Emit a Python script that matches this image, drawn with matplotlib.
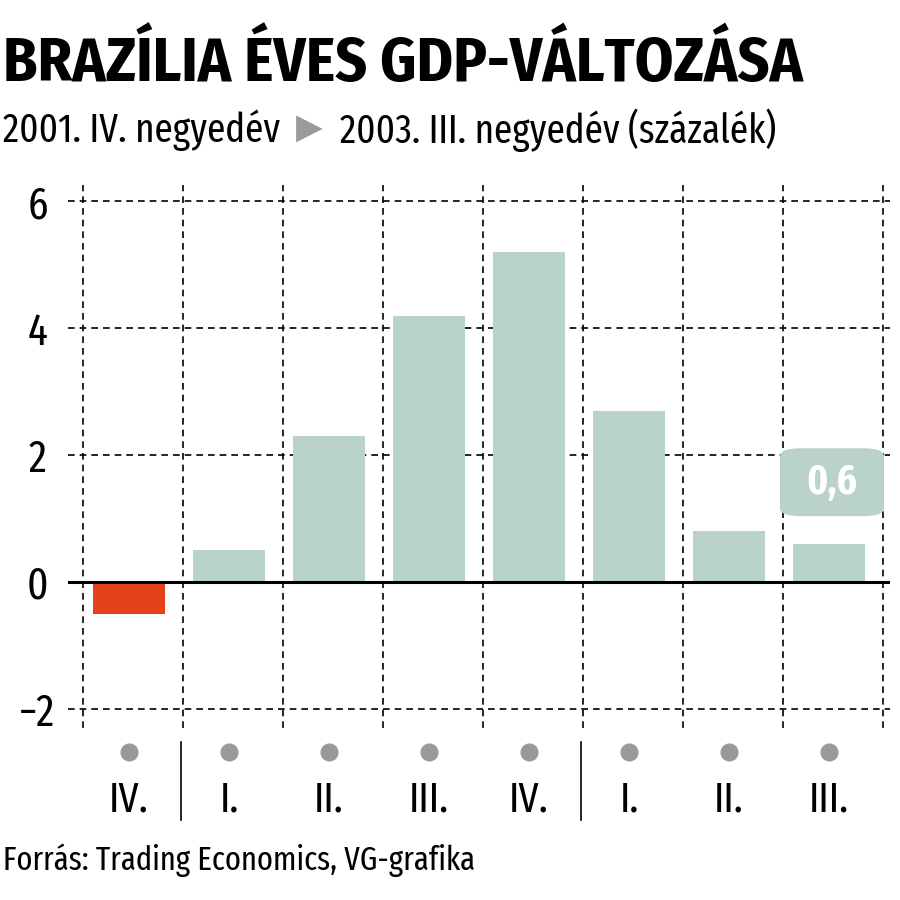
import matplotlib
matplotlib.use("Agg")
import matplotlib.pyplot as plt
from matplotlib.transforms import blended_transform_factory
from matplotlib.patches import FancyBboxPatch

categories = ["IV.", "I.", "II.", "III.", "IV.", "I.", "II.", "III."]
values = [-0.5, 0.5, 2.3, 4.2, 5.2, 2.7, 0.8, 0.6]
yticks = [-2, 0, 2, 4, 6]
title = "BRAZÍLIA ÉVES GDP-VÁLTOZÁSA"
sub_left = "2001. IV. negyedév"
sub_right = "2003. III. negyedév (százalék)"
source = "Forrás: Trading Economics, VG-grafika"
highlight_label = "0,6"

FONT = ["Fira Sans Extra Condensed", "DejaVu Sans"]
plt.rcParams["font.family"] = FONT

BAR = "#b9d3cb"
NEG = "#e5421b"

fig = plt.figure(figsize=(9, 9), dpi=100)
ax = fig.add_axes([68/900, (900-728)/900, 822/900, 543/900])
x = list(range(len(values)))
colors = [NEG if v < 0 else BAR for v in values]
ax.bar(x, values, width=0.72, color=colors, zorder=3)
ax.set_xlim(-0.61, 7.61)
ax.set_ylim(-2.3, 6.26)

for y in yticks:
    if y == 0:
        ax.axhline(0, color="black", lw=2.2, zorder=4)
    else:
        ax.axhline(y, color="black", lw=1.2, ls=(0, (4, 3)), zorder=1)
for i in range(len(values) + 1):
    ax.axvline(i - 0.46, color="black", lw=1.2, ls=(0, (4, 3)), zorder=1)

for s in ax.spines.values():
    s.set_visible(False)
ax.set_xticks([])
ax.set_yticks(yticks)
ax.set_yticklabels(["\u22122" if t < 0 else str(t) for t in yticks])
ax.tick_params(axis="y", length=0, labelsize=32, pad=22)
for lab in ax.get_yticklabels():
    lab.set_horizontalalignment("center")

# highlight box
last = len(values) - 1
box = FancyBboxPatch((last + 0.03 - 0.52, 1.04), 1.04, 1.07,
                     boxstyle="round,pad=0,rounding_size=0.2",
                     mutation_aspect=0.64,
                     fc=BAR, ec="none", transform=ax.transData, zorder=5,
                     clip_on=False)
ax.add_patch(box)
ax.text(last + 0.03, 1.56, highlight_label, ha="center", va="center",
        fontsize=30, fontweight="bold", color="white", zorder=6)

# category dots and labels
tf = blended_transform_factory(ax.transData, fig.transFigure)
ax.scatter(x, [1 - 752/900] * len(x), s=170, color="#999999",
           transform=tf, clip_on=False, zorder=5, linewidths=0)
for xi, lab in zip(x, categories):
    ax.text(xi, 1 - 800/900, lab, transform=tf, ha="center", va="center",
            fontsize=31)
for sep in [0.52, 4.52]:
    ax.plot([sep, sep], [1 - 742/900, 1 - 820/900], transform=tf,
            color="black", lw=1.2, clip_on=False)

fig.text(3/900, 1 - 65/900, title, fontsize=44.5, fontweight="bold",
         va="center", ha="left", family=["Fira Sans Condensed", "DejaVu Sans"])
fig.text(3/900, 1 - 130/900, sub_left, fontsize=29, va="center", ha="left")
fig.text(309/900, 1 - 128/900, "\u25B6", fontsize=25, color="#9a9a9a",
         va="center", ha="center", family=["DejaVu Sans"])
fig.text(340/900, 1 - 130/900, sub_right, fontsize=29, va="center", ha="left")
fig.text(3/900, 1 - 860/900, source, fontsize=24, va="center", ha="left")

fig.savefig("out.png", dpi=100)
